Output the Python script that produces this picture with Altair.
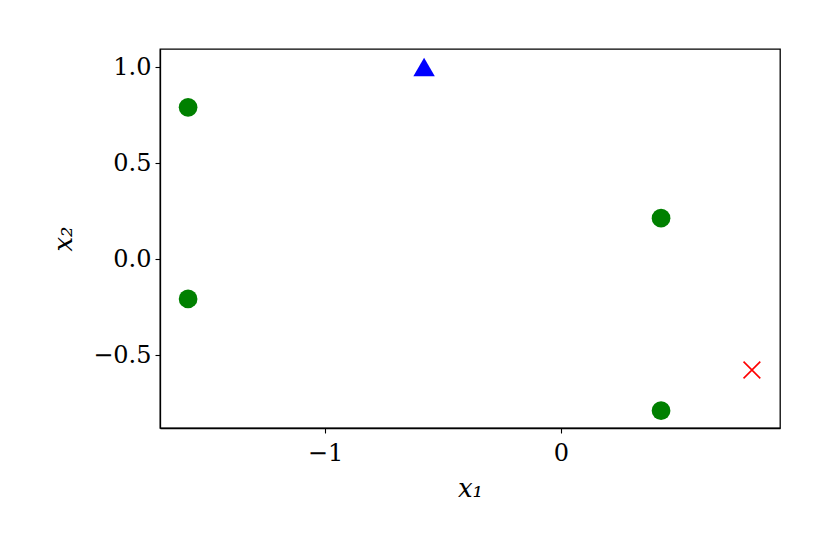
import altair as alt
import pandas as pd

circle_x = [-1.58, -1.58, 0.424, 0.424]
circle_y = [0.79, -0.208, 0.213, -0.79]
tri_x = [-0.58]
tri_y = [1.0]
cross_x = [0.809]
cross_y = [-0.578]

x_domain = [-1.699, 0.928]
y_domain = [-0.880, 1.094]
x_ticks = [-1, 0]
y_ticks = [-0.5, 0.0, 0.5, 1.0]

FONT = "DejaVu Serif"

circles = pd.DataFrame({"x": circle_x, "y": circle_y})
tris = pd.DataFrame({"x": tri_x, "y": tri_y})
crosses = pd.DataFrame({"x": cross_x, "y": cross_y})

xenc = alt.X("x:Q", scale=alt.Scale(domain=x_domain, nice=False, zero=False),
             axis=alt.Axis(values=x_ticks, format="d", title="x₁", grid=False))
yenc = alt.Y("y:Q", scale=alt.Scale(domain=y_domain, nice=False, zero=False),
             axis=alt.Axis(values=y_ticks, format=".1f", title="x₂", grid=False))

l1 = alt.Chart(circles).mark_point(shape="circle", filled=True, size=350, color="#008000", opacity=1).encode(x=xenc, y=yenc)
l2 = alt.Chart(tris).mark_point(shape="triangle-up", filled=True, size=460, color="#0000ff", opacity=1).encode(x=xenc, y=yenc)
l3 = alt.Chart(crosses).mark_point(shape="M-1,-1L1,1M-1,1L1,-1", filled=False, size=280, color="#ff0000", strokeWidth=1.6, opacity=1).encode(x=xenc, y=yenc)

chart = alt.layer(l1, l2, l3).properties(
    width=620, height=379,
    autosize=alt.AutoSizeParams(type="none"),
    padding={"left": 152, "top": 41, "right": 40, "bottom": 100},
).configure_view(stroke="black", strokeWidth=1.3).configure_axis(
    labelFont=FONT, titleFont=FONT, labelFontSize=24, titleFontSize=26,
    labelColor="black", titleColor="black", tickColor="black", domainColor="black",
    tickSize=5, tickWidth=1.1, domainWidth=1.3, labelPadding=4,
    titleFontStyle="italic", titleFontWeight="normal",
).configure_axisX(titlePadding=10, labelPadding=8).configure_axisY(titlePadding=16)

chart.save("out.html", embed_options={"renderer": "svg", "actions": False})
